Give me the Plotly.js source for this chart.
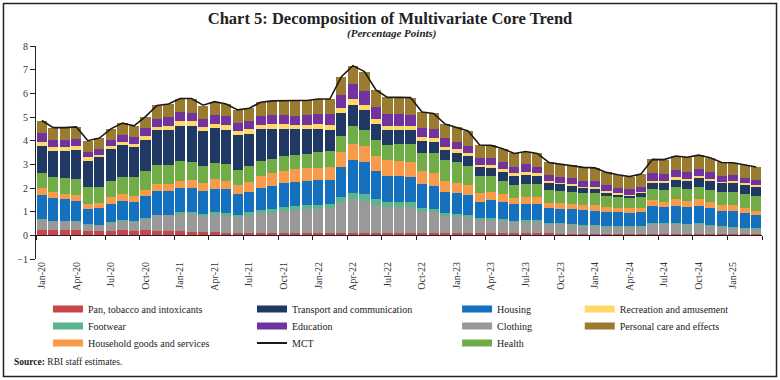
<!DOCTYPE html>
<html>
<head>
<meta charset="utf-8">
<script src="https://cdn.plot.ly/plotly-3.0.1.min.js"></script>
<style>html,body{margin:0;padding:0;background:#fff;}#chart{width:780px;height:380px;}</style>
</head>
<body>
<div id="chart"></div>
<script>
// Months Jan-20 .. Mar-25
const months = ["Jan-20","Feb-20","Mar-20","Apr-20","May-20","Jun-20","Jul-20","Aug-20","Sep-20","Oct-20","Nov-20","Dec-20",
"Jan-21","Feb-21","Mar-21","Apr-21","May-21","Jun-21","Jul-21","Aug-21","Sep-21","Oct-21","Nov-21","Dec-21",
"Jan-22","Feb-22","Mar-22","Apr-22","May-22","Jun-22","Jul-22","Aug-22","Sep-22","Oct-22","Nov-22","Dec-22",
"Jan-23","Feb-23","Mar-23","Apr-23","May-23","Jun-23","Jul-23","Aug-23","Sep-23","Oct-23","Nov-23","Dec-23",
"Jan-24","Feb-24","Mar-24","Apr-24","May-24","Jun-24","Jul-24","Aug-24","Sep-24","Oct-24","Nov-24","Dec-24",
"Jan-25","Feb-25","Mar-25"];

const tickLabels = ["Jan-20","Apr-20","Jul-20","Oct-20","Jan-21","Apr-21","Jul-21","Oct-21","Jan-22","Apr-22","Jul-22","Oct-22",
"Jan-23","Apr-23","Jul-23","Oct-23","Jan-24","Apr-24","Jul-24","Oct-24","Jan-25"];

const pan = [.22,.22,.22,.22,.20,.20,.20,.21,.20,.21,.20,.20,.18,.15,.14,.13,.11,.10,.09,.09,.09,.08,.08,.08,
.08,.08,.08,.08,.08,.08,.08,.09,.10,.10,.10,.10,.10,.10,.10,.10,.10,.10,.10,.10,.09,.07,.07,.07,
.07,.07,.07,.07,.07,.07,.07,.07,.07,.07,.07,.07,.07,.07,.07];
const clothing = [.43,.38,.38,.35,.24,.23,.34,.41,.37,.50,.65,.65,.74,.75,.69,.77,.72,.68,.76,.84,.87,.96,.99,1.02,
1.03,1.06,1.31,1.44,1.38,1.20,1.13,1.12,1.08,.90,.87,.73,.72,.69,.55,.55,.51,.45,.48,.48,.40,.39,.37,.34,
.34,.30,.30,.29,.29,.42,.40,.40,.37,.40,.34,.27,.26,.21,.20];
const footwear = [.05,.02,.02,.03,.02,.02,.03,.03,.03,.03,.03,.03,.08,.08,.07,.09,.13,.09,.12,.14,.15,.17,.18,.18,
.17,.17,.24,.28,.29,.26,.21,.21,.21,.17,.14,.10,.07,.07,.07,.07,.07,.06,.07,.07,.05,.05,.04,.03,
.04,.04,.04,.03,.03,.05,.04,.04,.04,.04,.04,.04,.04,.04,.03];
const housing = [1.00,.97,.92,.86,.67,.71,.77,.81,.82,.93,.98,.98,1.00,1.04,.99,.97,.98,.89,.88,.94,.99,.99,.99,1.02,
1.04,1.03,1.27,1.38,1.35,1.18,1.09,1.09,1.09,1.00,.97,.89,.88,.84,.70,.77,.74,.70,.67,.67,.63,.62,.63,.63,
.58,.59,.58,.54,.58,.70,.70,.73,.72,.73,.70,.63,.66,.61,.55];
const household = [.30,.23,.21,.25,.21,.21,.26,.30,.26,.26,.30,.30,.31,.33,.34,.41,.36,.38,.42,.51,.52,.53,.55,.53,
.54,.56,.64,.69,.69,.65,.67,.63,.62,.55,.54,.48,.46,.43,.35,.33,.31,.28,.31,.30,.21,.22,.21,.21,
.24,.21,.18,.21,.18,.25,.21,.28,.25,.28,.27,.26,.24,.21,.19];
const health = [.62,.64,.69,.68,.69,.69,.71,.71,.77,.80,.82,.82,.84,.75,.70,.67,.73,.63,.66,.62,.62,.62,.60,.59,
.65,.66,.66,.75,.66,.66,.64,.71,.76,.77,.84,.88,.85,.81,.75,.69,.58,.54,.54,.55,.54,.54,.53,.50,
.52,.45,.44,.45,.46,.45,.50,.51,.49,.51,.50,.55,.58,.61,.62];
const transport = [1.15,1.10,1.14,1.23,1.13,1.23,1.32,1.36,1.30,1.31,1.45,1.49,1.49,1.54,1.48,1.51,1.42,1.45,1.35,1.34,1.25,1.16,1.10,1.07,
.97,.89,.98,.89,.85,.67,.63,.60,.59,.51,.48,.43,.41,.41,.35,.35,.38,.39,.39,.34,.31,.26,.25,.20,
.17,.14,.11,.09,.16,.29,.31,.31,.36,.39,.38,.38,.38,.38,.38];
const recreation = [.17,.17,.15,.16,.14,.11,.14,.13,.12,.17,.16,.16,.21,.20,.17,.17,.21,.17,.20,.18,.21,.19,.19,.19,
.22,.21,.21,.25,.21,.22,.17,.17,.17,.14,.16,.12,.14,.11,.10,.11,.11,.10,.12,.11,.08,.08,.08,.08,
.08,.07,.05,.02,.08,.08,.08,.11,.07,.09,.07,.07,.08,.08,.09];
const education = [.37,.30,.29,.29,.23,.24,.26,.29,.27,.32,.34,.36,.36,.34,.34,.35,.38,.35,.35,.38,.37,.37,.38,.39,
.41,.45,.54,.62,.59,.49,.51,.49,.46,.41,.41,.37,.33,.33,.28,.28,.31,.28,.32,.28,.24,.25,.26,.25,
.26,.24,.24,.24,.21,.31,.28,.31,.29,.29,.29,.24,.24,.23,.21];
const personal = [.52,.49,.50,.51,.47,.47,.47,.49,.49,.49,.56,.56,.57,.60,.56,.58,.51,.56,.54,.58,.61,.63,.64,.63,
.65,.65,.77,.79,.82,.73,.70,.72,.74,.66,.64,.60,.60,.62,.57,.55,.55,.56,.54,.56,.53,.53,.53,.56,
.55,.55,.55,.54,.53,.59,.61,.59,.64,.59,.62,.57,.52,.53,.55];
const mct = [4.85,4.55,4.55,4.58,4.00,4.11,4.50,4.74,4.63,5.02,5.49,5.55,5.78,5.78,5.50,5.65,5.55,5.30,5.37,5.62,5.68,5.70,5.70,5.70,
5.76,5.76,6.70,7.17,6.92,6.14,5.83,5.83,5.82,5.21,5.15,4.70,4.56,4.41,3.82,3.80,3.66,3.46,3.54,3.46,3.08,3.01,2.97,2.87,
2.85,2.66,2.56,2.48,2.59,3.21,3.20,3.35,3.30,3.39,3.28,3.08,3.07,2.97,2.89];

// stacking order bottom -> top; col/row = legend cell in the reference layout
const series = [
  {name:"Pan, tobacco and intoxicants", y:pan, color:"#C8464B", col:0, row:0},
  {name:"Clothing", y:clothing, color:"#999999", col:2, row:1},
  {name:"Footwear", y:footwear, color:"#5AB48C", col:0, row:1},
  {name:"Housing", y:housing, color:"#1371BF", col:2, row:0},
  {name:"Household goods and services", y:household, color:"#F79A4A", col:0, row:2},
  {name:"Health", y:health, color:"#71AD47", col:2, row:2},
  {name:"Transport and communication", y:transport, color:"#1F3864", col:1, row:0},
  {name:"Recreation and amusement", y:recreation, color:"#FFD966", col:3, row:0},
  {name:"Education", y:education, color:"#7232A0", col:1, row:1},
  {name:"Personal care and effects", y:personal, color:"#9B7B30", col:3, row:1}
];

const F = "Liberation Serif, DejaVu Serif, serif";
const colX = [0.0165, 0.2975, 0.58, 0.749];
const rowY = [-0.2347, -0.3146, -0.3944];

const layout = {
  width:780, height:380,
  margin:{l:36, r:18, t:46, b:121},
  paper_bgcolor:"#fff", plot_bgcolor:"#fff",
  barmode:"stack", bargap:0.12,
  title:{text:"<b>Chart 5: Decomposition of Multivariate Core Trend</b>", x:0.5, xref:"container", xanchor:"center",
    y:0.953, yref:"container", yanchor:"middle", font:{family:F, size:16.5, color:"#222"}},
  xaxis:{type:"category", range:[-0.5, 62.5], tickmode:"array", tickvals:tickLabels, ticktext:tickLabels,
    tickangle:-90, ticks:"", showline:false, showgrid:false, zeroline:false,
    tickfont:{family:F, size:10, color:"#333"}},
  xaxis2:{overlaying:"x", anchor:"free", position:1/9, range:[-0.5, 62.5], tickmode:"array", tickvals:[],
    ticks:"outside", ticklen:4, tickcolor:"#222", showticklabels:false, showline:true, linecolor:"#222", linewidth:1,
    showgrid:false, zeroline:false},
  yaxis:{range:[-1, 8], dtick:1, tick0:0, ticks:"outside", ticklen:5, tickcolor:"#222", showline:true, linecolor:"#222",
    linewidth:1, showgrid:false, zeroline:false, tickfont:{family:F, size:10, color:"#333"}},
  annotations:[
    {text:"<b><i>(Percentage Points)</i></b>", xref:"paper", yref:"paper", x:0.49, y:1.058, xanchor:"center", yanchor:"middle",
     showarrow:false, font:{family:F, size:11, color:"#222"}},
    {text:"<b>Source:</b> RBI staff estimates.", xref:"paper", yref:"paper", x:-0.0331, y:-0.4836, xanchor:"left", yanchor:"middle",
     showarrow:false, font:{family:F, size:9.5, color:"#222"}}
  ],
  shapes:[
    {type:"rect", xref:"paper", yref:"paper", x0:-0.0448, x1:1.02, y0:-0.5516, y1:1.1995, line:{color:"#222", width:1.5}, fillcolor:"rgba(0,0,0,0)"}
  ],
  showlegend:true
};

// boundary ticks every quarter on the zero axis
const boundaryTicks = [];
for (let i = 0; i <= tickLabels.length; i++) boundaryTicks.push(-0.5 + 3*i);
layout.xaxis2.tickvals = boundaryTicks;

const traces = [];
series.forEach(s => {
  traces.push({type:"bar", x:months, y:s.y, name:s.name, showlegend:false,
    marker:{color:s.color, line:{width:0}}});
});
traces.push({type:"scatter", mode:"lines", x:months, y:mct, name:"MCT", showlegend:false,
  line:{color:"#1a1a1a", width:1.6}});

// one legend per cell so that the row spacing and column positions follow the reference
const cells = series.map(s => ({name:s.name, color:s.color, col:s.col, row:s.row, width:7}));
cells.push({name:"MCT", color:"#1a1a1a", col:1, row:2, width:2});
cells.forEach((c, i) => {
  const key = i === 0 ? "legend" : "legend" + (i + 1);
  layout[key] = {orientation:"v", x:colX[c.col], xanchor:"left", y:rowY[c.row], yanchor:"middle",
    bgcolor:"rgba(0,0,0,0)", font:{family:F, size:10, color:"#222"}, itemwidth:30};
  traces.push({type:"scatter", mode:"lines", x:[null], y:[null], name:c.name, legend:key, showlegend:true,
    hoverinfo:"skip", line:{color:c.color, width:c.width}});
});

// helper trace for the boundary-tick axis at zero
traces.push({type:"scatter", mode:"markers", x:[-0.5], y:[null], xaxis:"x2", yaxis:"y", showlegend:false, hoverinfo:"skip", marker:{opacity:0}});

Plotly.newPlot("chart", traces, layout, {displayModeBar:false, staticPlot:true});
</script>
</body>
</html>
